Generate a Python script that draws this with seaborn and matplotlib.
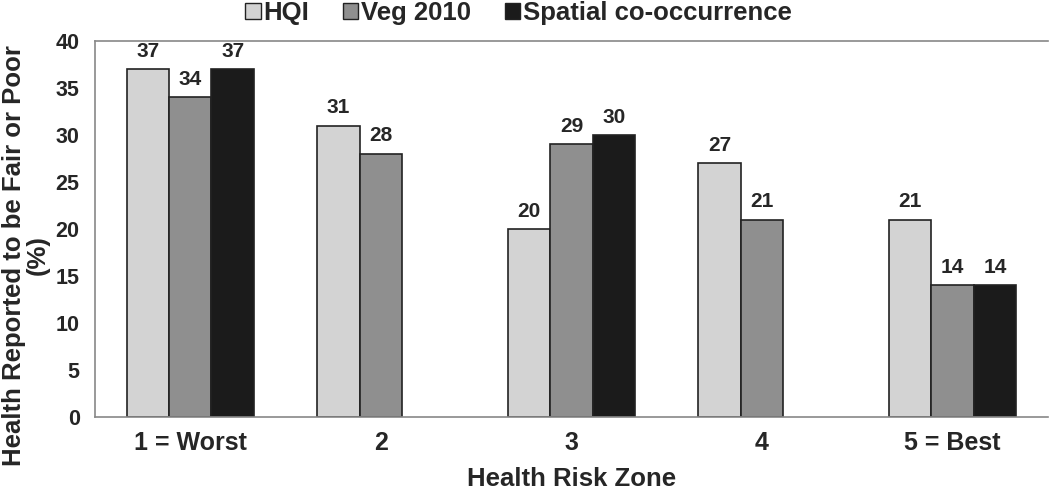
import numpy as np
import pandas as pd
import matplotlib
matplotlib.use("Agg")
import matplotlib.pyplot as plt
import seaborn as sns
from matplotlib.patches import Patch
from matplotlib.ticker import FixedLocator

zones = ["1 = Worst", "2", "3", "4", "5 = Best"]
series_names = ["HQI", "Veg 2010", "Spatial co-occurrence"]
hqi = [37, 31, 20, 27, 21]
veg = [34, 28, 29, 21, 14]
spatial = [37, np.nan, 30, np.nan, 14]
colors = ["#d3d3d3", "#8f8f8f", "#1b1b1b"]

rows = []
for name, vals in zip(series_names, [hqi, veg, spatial]):
    for z, v in zip(zones, vals):
        rows.append({"zone": z, "series": name, "value": v})
df = pd.DataFrame(rows)

sns.set_style("white")
plt.rcParams["font.family"] = ["Liberation Sans", "DejaVu Sans"]
plt.rcParams["font.weight"] = "bold"

fig = plt.figure(figsize=(10.5, 4.93), dpi=100)
ax = fig.add_axes([0.0905, 0.154, 0.9075, 0.763])

sns.barplot(data=df, x="zone", y="value", hue="series", order=zones,
            hue_order=series_names, palette=colors, width=0.667,
            edgecolor="#222222", linewidth=1.2, errorbar=None, ax=ax,
            legend=False)

for cont in ax.containers:
    labels = [f"{h:.0f}" if np.isfinite(h) and h > 0 else "" for h in cont.datavalues]
    ax.bar_label(cont, labels=labels, padding=6, fontsize=15, fontweight="bold")

ax.set_xlim(-0.5, 4.5)
ax.set_ylim(0, 40)
ax.set_yticks(np.arange(0, 41, 5))
ax.tick_params(axis="y", labelsize=15.5, length=8, color="#888888", width=1.2, pad=3)
ax.tick_params(axis="x", which="major", labelsize=18, length=0, pad=10)
ax.xaxis.set_minor_locator(FixedLocator(np.arange(-0.5, 4.6, 1.0)))
ax.tick_params(axis="x", which="minor", length=7, color="#888888", width=1.2)
for lab in ax.get_xticklabels() + ax.get_yticklabels():
    lab.set_fontweight("bold")

for s in ["left", "bottom", "top"]:
    ax.spines[s].set_visible(True)
    ax.spines[s].set_color("#888888")
    ax.spines[s].set_linewidth(1.2)
ax.spines["right"].set_visible(False)

ax.set_xlabel("Health Risk Zone", fontsize=18.5, fontweight="bold", labelpad=9)
ax.set_ylabel("Health Reported to be Fair or Poor\n(%)", fontsize=18.5,
              fontweight="bold", linespacing=1.0)
ax.yaxis.set_label_coords(-0.047, 0.43)

handles = [Patch(facecolor=c, edgecolor="#222222", linewidth=1.0) for c in colors]
fig.legend(handles, series_names, loc="upper center", bbox_to_anchor=(0.494, 1.045),
           ncol=3, frameon=False, prop={"size": 18.5, "weight": "bold"},
           handlelength=0.6, handleheight=0.6, handletextpad=0.12, columnspacing=1.3)

fig.savefig("out.png", dpi=100)
